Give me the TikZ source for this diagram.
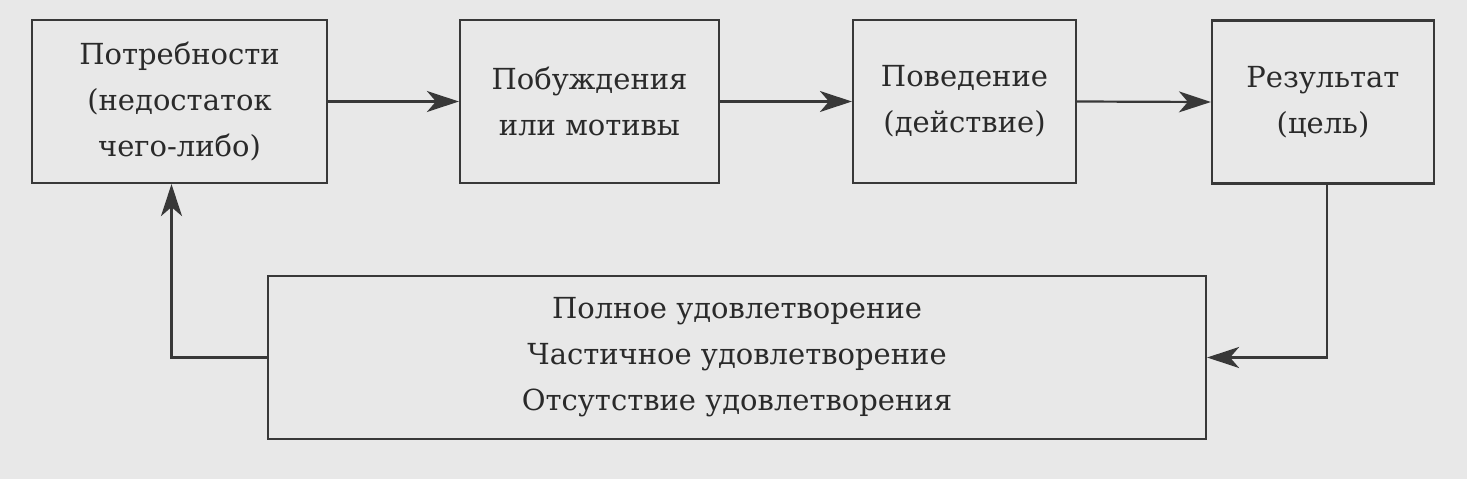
\documentclass[tikz,border=0pt]{standalone}
\usepackage{fontspec}
\setmainfont{DejaVu Serif}
\usetikzlibrary{arrows.meta,calc}
\definecolor{bg}{HTML}{E8E8E8}
\definecolor{ink}{HTML}{383838}
\definecolor{txt}{HTML}{2A2A2A}
\begin{document}
\begin{tikzpicture}[x=1pt,y=-1pt,
  box/.style={draw=ink,line width=2.2pt,rectangle,inner sep=0pt,align=center,
    text=txt,font=\fontsize{29}{46}\selectfont,minimum height=163pt},
  conn/.style={draw=ink,line width=2.2pt,-{Stealth[length=32pt,width=21pt,inset=9pt]}}]
\fill[bg] (0,0) rectangle (1467,479);
\useasboundingbox (0,0) rectangle (1467,479);
\node[box,minimum width=295pt] (b1) at (179.5,101.5) {Потребности\\(недостаток\\чего-либо)};
\node[box,minimum width=259pt] (b2) at (589.5,101.5) {Побуждения\\или мотивы};
\node[box,minimum width=223pt] (b3) at (964.5,101.5) {Поведение\\(действие)};
\node[box,minimum width=222pt] (b4) at (1323,102) {Результат\\(цель)};
\node[box,minimum width=938pt,text depth=8pt] (b5) at (737,357.5) {Полное удовлетворение\\Частичное удовлетворение\\Отсутствие удовлетворения};
\coordinate (r) at ($(b4.south)+(4,0)$);
\coordinate (l) at ($(b1.south)+(-8,0)$);
\draw[conn] (b1.east) -- (b2.west);
\draw[conn] (b2.east) -- (b3.west);
\draw[conn] (b3.east) -- (b4.west);
\draw[conn] (r) |- (b5.east);
\draw[conn] (b5.west) -| (l);
\end{tikzpicture}
\end{document}
